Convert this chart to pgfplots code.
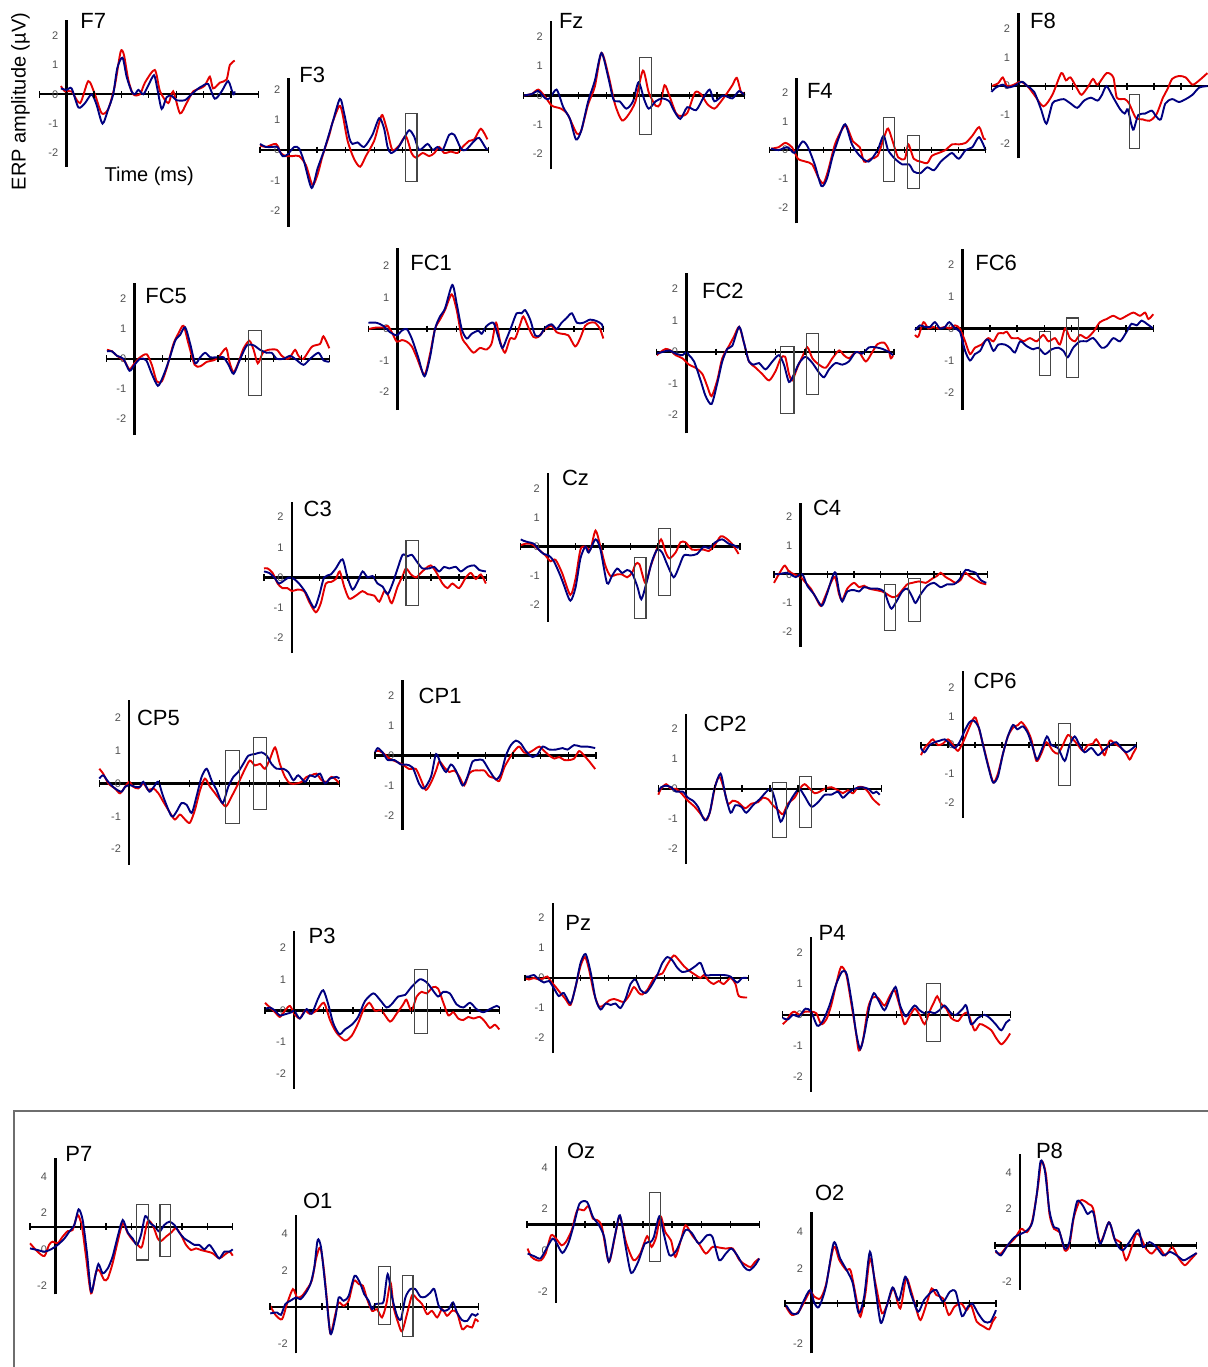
\documentclass[border=0pt]{standalone}
\usepackage{pgfplots}
\pgfplotsset{compat=1.18}
\usepackage{fontspec}
\setmainfont{Liberation Sans}
\definecolor{erpred}{RGB}{228,0,0}
\definecolor{erpblue}{RGB}{0,0,128}
\definecolor{tickgray}{RGB}{80,80,80}
\definecolor{boxgray}{RGB}{70,70,70}
\definecolor{framegray}{RGB}{110,110,110}
\pgfplotsset{
 erp/.style={hide axis, clip=false, anchor=south west, xmin=-100, xmax=700},
 rd/.style={erpred, line width=0.95pt, smooth, tension=0.45, no markers},
 bl/.style={erpblue, line width=0.95pt, smooth, tension=0.45, no markers},
 axl/.style={black, line width=1.2pt, no markers},
 tk/.style={only marks, mark=|, mark size=1.7pt, mark options={black, line width=0.65pt}},
}
\tikzset{
 tl/.style={anchor=east, inner sep=0pt, xshift=-4pt, text=tickgray, font=\fontsize{5.5}{6}\selectfont},
 bx/.style={boxgray, line width=0.55pt},
 ttl/.style={anchor=base west, inner sep=0pt, font=\fontsize{11}{13}\selectfont},
}
% xmin xmax ymin ymax vx hl
\newcommand{\axes}[6]{%
 \addplot[axl] coordinates {(#5,#3) (#5,#4)};
 \addplot[axl] coordinates {(#1,#6) (#2,#6)};
 \addplot[tk] coordinates {(-100,#6) (0,#6) (100,#6) (200,#6) (300,#6) (400,#6) (500,#6) (600,#6) (700,#6)};
}
\newcommand{\ylA}[1]{\node[tl] at (axis cs:#1,2) {2}; \node[tl] at (axis cs:#1,1) {1}; \node[tl] at (axis cs:#1,0) {0}; \node[tl] at (axis cs:#1,-1) {-1}; \node[tl] at (axis cs:#1,-2) {-2};}
\newcommand{\ylB}[1]{\node[tl] at (axis cs:#1,4) {4}; \node[tl] at (axis cs:#1,2) {2}; \node[tl] at (axis cs:#1,0) {0}; \node[tl] at (axis cs:#1,-2) {-2};}
\newcommand{\ylC}[1]{\node[tl] at (axis cs:#1,4) {4}; \node[tl] at (axis cs:#1,2) {2}; \node[tl] at (axis cs:#1,-2) {-2};}
\begin{document}
\begin{tikzpicture}
\useasboundingbox (0,0) rectangle (603.5pt,-683.5pt);
% ---------------- F7
\begin{axis}[erp, x=0.13688pt, y=14.65pt, ymin=-2.47, ymax=2.54, at={(19.65pt,-83.33pt)}]
\axes{-100}{700}{-2.47}{2.54}{0}{0}\ylA{0}
\addplot[rd] coordinates {(-21,0.28) (-6,0.1) (18,0.1) (49,-0.3) (79,0.45) (103,0.0) (128,-0.65) (152,-0.5) (176,0.3) (197,1.45) (209,1.35) (225,0.5) (243,0.0) (268,0.0) (286,0.4) (322,0.83) (341,0.1) (371,-0.3) (389,0.1) (414,-0.65) (438,-0.3) (462,0.1) (487,0.2) (505,0.3) (523,0.6) (535,0.2) (560,0.4) (584,0.5) (596,1.0) (614,1.15)};
\addplot[bl] coordinates {(-21,0.2) (0,0.15) (18,0.2) (43,-0.45) (67,-0.3) (91,0.0) (109,-0.35) (131,-1.0) (152,-0.5) (170,0.0) (185,0.9) (204,1.25) (219,0.6) (237,0.1) (249,0.0) (262,0.15) (280,0.0) (298,0.3) (319,0.65) (331,0.2) (347,-0.5) (365,-0.1) (383,-0.05) (401,-0.2) (432,-0.2) (456,0.0) (481,0.2) (499,0.3) (517,0.35) (541,-0.15) (566,0.1) (590,0.45) (608,0.0) (614,0.1)};
\end{axis}
% ---------------- F3
\begin{axis}[erp, x=0.14269pt, y=15.2pt, ymin=-2.52, ymax=2.36, at={(130pt,-113.3pt)}]
\axes{-100}{700}{-2.52}{2.36}{0}{0}\ylA{0}
\addplot[rd] coordinates {(-100,0.15) (-79,0.1) (-44,0.2) (-27,-0.1) (-9,-0.2) (14,-0.2) (37,-0.2) (61,-0.5) (84,-1.15) (102,-0.8) (119,-0.2) (143,0.5) (154,0.9) (178,1.45) (189,1.2) (207,0.3) (230,-0.3) (251,-0.55) (271,-0.2) (300,0.3) (318,0.9) (329,1.15) (347,0.6) (364,0.0) (388,0.15) (411,0.45) (431,-0.1) (446,-0.25) (470,-0.1) (493,-0.2) (511,-0.1) (528,0.1) (546,-0.1) (569,-0.05) (592,-0.1) (610,0.1) (633,0.3) (651,0.35) (674,0.7) (697,0.35)};
\addplot[bl] coordinates {(-100,0.2) (-79,0.1) (-56,0.1) (-39,0.1) (-21,-0.2) (-4,-0.15) (20,0.1) (37,0.05) (55,-0.4) (81,-1.25) (102,-0.6) (125,0.0) (154,0.9) (180,1.68) (195,1.2) (213,0.4) (224,0.2) (242,0.25) (265,0.1) (294,0.5) (318,1.05) (335,0.7) (347,0.1) (359,-0.1) (382,0.05) (405,0.4) (423,0.65) (440,0.45) (458,0.0) (487,0.2) (505,0.0) (522,0.1) (540,0.0) (563,0.5) (581,0.5) (604,0.05) (621,0.0) (651,0.3) (668,0.4) (692,0.05) (697,0.05)};
\draw[bx] (axis cs:409,-1.04) rectangle (axis cs:450,1.21);
\end{axis}
% ---------------- Fz
\begin{axis}[erp, x=0.13838pt, y=14.65pt, ymin=-2.52, ymax=2.55, at={(261.7pt,-84.65pt)}]
\axes{-100}{700}{-2.52}{2.55}{0}{0}\ylA{0}
\addplot[rd] coordinates {(-99,0.0) (-70,0.05) (-46,0.2) (-21,-0.05) (3,-0.35) (36,-0.45) (60,-0.65) (93,-1.3) (109,-1.2) (134,-0.3) (158,0.3) (182,1.45) (207,0.7) (231,-0.3) (256,-0.85) (280,-0.65) (305,-0.2) (332,0.85) (353,0.1) (378,-0.35) (394,-0.3) (410,0.35) (427,0.0) (451,-0.6) (467,-0.7) (492,-0.6) (520,0.1) (541,0.05) (565,-0.3) (590,-0.45) (606,-0.3) (630,0.0) (655,0.35) (671,0.6) (687,0.1) (700,0.1)};
\addplot[bl] coordinates {(-99,0.0) (-70,0.05) (-46,0.15) (-21,-0.1) (-5,-0.1) (20,0.2) (44,-0.4) (68,-0.8) (90,-1.5) (109,-1.2) (134,-0.2) (158,0.5) (182,1.45) (207,0.6) (226,-0.15) (248,-0.2) (272,-0.45) (296,-0.2) (316,0.45) (337,-0.15) (353,-0.45) (378,-0.2) (402,-0.1) (427,-0.2) (443,-0.5) (467,-0.8) (492,-0.4) (524,-0.5) (549,-0.1) (573,0.2) (590,-0.2) (622,0.0) (655,-0.1) (679,0.15) (700,0.0)};
\draw[bx] (axis cs:318,-1.32) rectangle (axis cs:362,1.3);
\end{axis}
% ---------------- F4
\begin{axis}[erp, x=0.135pt, y=14.375pt, ymin=-2.55, ymax=2.5, at={(384.8pt,-111.7pt)}]
\axes{-100}{700}{-2.55}{2.5}{0}{0}\ylA{0}
\addplot[rd] coordinates {(-95,0.05) (-67,0.1) (-42,0.25) (-17,0.1) (5,-0.3) (33,-0.4) (58,-0.5) (83,-1.0) (100,-1.15) (117,-0.7) (142,0.2) (167,0.7) (184,0.85) (209,0.3) (234,0.1) (250,-0.4) (275,-0.3) (300,-0.2) (326,0.5) (339,0.75) (356,0.3) (376,-0.25) (401,-0.3) (414,0.2) (434,-0.3) (459,-0.4) (484,-0.45) (501,-0.2) (526,-0.1) (551,0.0) (576,0.2) (601,0.2) (626,0.25) (651,0.5) (676,0.8) (693,0.4) (700,0.4)};
\addplot[bl] coordinates {(-95,0.05) (-67,0.0) (-33,0.1) (-8,-0.1) (22,0.3) (42,0.1) (67,-0.5) (92,-1.25) (112,-1.0) (134,-0.2) (159,0.5) (180,0.9) (205,0.2) (234,-0.2) (267,-0.4) (300,0.0) (322,0.5) (339,0.0) (364,-0.3) (392,-0.5) (417,-0.5) (434,-0.75) (459,-0.8) (484,-0.6) (509,-0.7) (534,-0.4) (559,-0.2) (576,-0.1) (601,-0.3) (626,0.0) (651,0.1) (676,0.45) (700,0.0)};
\draw[bx] (axis cs:321,-1.1) rectangle (axis cs:362,1.14);
\draw[bx] (axis cs:412,-1.34) rectangle (axis cs:454,0.5);
\end{axis}
% ---------------- F8
\begin{axis}[erp, x=0.1355pt, y=14.45pt, ymin=-2.5, ymax=2.54, at={(495.7pt,-79.18pt)}]
\axes{-100}{700}{-2.5}{2.54}{0}{0}\ylA{0}
\addplot[rd] coordinates {(-100,0.0) (-75,0.1) (-58,0.3) (-42,0.0) (-17,0.05) (8,0.15) (33,0.0) (58,-0.3) (92,-0.7) (125,-0.3) (158,0.45) (175,0.2) (192,0.3) (217,-0.1) (233,-0.3) (258,0.0) (275,0.25) (292,0.05) (325,0.45) (350,0.3) (363,-0.4) (392,-0.45) (408,-0.6) (433,-1.1) (458,-1.15) (483,-1.2) (508,-1.0) (533,-0.4) (550,-0.1) (567,0.25) (592,0.35) (617,0.3) (642,0.05) (667,0.2) (697,0.45)};
\addplot[bl] coordinates {(-100,-0.2) (-83,-0.05) (-58,0.05) (-42,-0.05) (-17,0.0) (13,0.15) (33,0.0) (58,-0.2) (83,-0.8) (103,-1.3) (125,-0.6) (142,-0.5) (167,-0.45) (192,-0.6) (217,-0.75) (242,-0.5) (267,-0.4) (292,-0.5) (308,-0.3) (325,0.0) (350,-0.4) (375,-0.8) (392,-0.95) (403,-0.8) (417,-1.35) (425,-1.5) (442,-1.0) (467,-0.95) (492,-0.85) (508,-1.05) (525,-1.15) (542,-0.6) (567,-0.45) (592,-0.55) (617,-0.45) (642,-0.3) (667,-0.05) (697,0.0)};
\draw[bx] (axis cs:408,-2.15) rectangle (axis cs:445,-0.29);
\end{axis}
% ---------------- FC5
\begin{axis}[erp, x=0.13913pt, y=15pt, ymin=-2.54, ymax=2.52, at={(53.35pt,-217.5pt)}]
\axes{-100}{700}{-2.54}{2.52}{0}{0}\ylA{0}
\addplot[rd] coordinates {(-99,0.3) (-81,0.25) (-63,0.1) (-46,0.0) (-34,-0.1) (-18,-0.35) (0,-0.15) (20,0.05) (44,0.15) (62,-0.2) (80,-0.75) (98,-0.75) (116,-0.3) (140,0.5) (158,0.85) (176,1.1) (194,0.5) (216,-0.2) (236,-0.25) (260,-0.1) (284,-0.05) (302,0.05) (329,0.35) (341,-0.1) (356,-0.45) (374,-0.1) (392,0.35) (413,0.6) (428,0.3) (443,-0.15) (461,0.2) (481,0.3) (511,0.3) (529,0.1) (547,0.0) (559,0.05) (577,0.3) (589,0.1) (607,0.0) (637,0.4) (667,0.5) (679,0.75) (700,0.35)};
\addplot[bl] coordinates {(-99,0.25) (-81,0.25) (-63,0.1) (-40,0.0) (-18,-0.4) (0,-0.2) (20,0.0) (42,-0.05) (62,-0.5) (84,-0.9) (102,-0.6) (122,-0.1) (146,0.6) (164,0.8) (182,1.05) (200,0.5) (218,-0.15) (236,0.05) (254,0.2) (272,0.05) (290,0.05) (308,0.05) (320,0.05) (338,-0.2) (356,-0.5) (380,0.0) (404,0.45) (428,0.45) (451,0.3) (475,0.2) (493,0.2) (511,0.0) (535,0.0) (559,0.1) (577,0.0) (607,-0.2) (631,0.0) (661,0.2) (679,-0.05) (700,-0.1)};
\draw[bx] (axis cs:410,-1.22) rectangle (axis cs:457,0.94);
\end{axis}
% ---------------- FC1
\begin{axis}[erp, x=0.14688pt, y=15.75pt, ymin=-2.57, ymax=2.56, at={(184.15pt,-205pt)}]
\axes{-100}{700}{-2.57}{2.56}{0}{0}\ylA{0}
\addplot[rd] coordinates {(-100,0.0) (-72,0.05) (-49,0.05) (-34,0.1) (-20,-0.1) (-3,-0.4) (14,-0.35) (31,-0.4) (48,-0.55) (65,-0.9) (91,-1.45) (110,-0.8) (127,0.0) (144,0.3) (161,0.6) (184,1.1) (201,0.6) (218,-0.25) (235,-0.5) (258,-0.75) (280,-0.6) (303,-0.65) (320,-0.45) (335,0.2) (349,-0.4) (365,-0.75) (383,-0.3) (400,-0.3) (417,0.15) (428,0.4) (445,0.05) (462,-0.25) (479,-0.25) (502,0.0) (524,0.1) (541,-0.1) (558,-0.15) (581,-0.2) (604,-0.55) (621,-0.3) (638,0.1) (655,0.2) (672,0.2) (689,0.0) (700,-0.3)};
\addplot[bl] coordinates {(-100,0.2) (-72,0.2) (-49,0.1) (-26,-0.1) (-3,-0.2) (14,-0.05) (31,0.0) (48,-0.3) (70,-0.9) (91,-1.5) (110,-0.9) (127,0.0) (144,0.4) (161,0.65) (186,1.4) (201,0.8) (218,0.0) (235,-0.3) (252,-0.15) (275,-0.05) (286,-0.15) (303,0.1) (326,0.2) (341,-0.2) (356,-0.6) (371,-0.3) (388,0.1) (405,0.5) (422,0.5) (434,0.6) (451,0.3) (468,-0.2) (485,-0.2) (502,0.05) (524,0.15) (541,0.0) (558,0.2) (575,0.35) (593,0.5) (610,0.2) (632,0.2) (655,0.3) (678,0.25) (695,0.15) (700,0.0)};
\end{axis}
% ---------------- FC2
\begin{axis}[erp, x=0.14831pt, y=15.75pt, ymin=-2.58, ymax=2.5, at={(328.35pt,-216.65pt)}]
\axes{-100}{700}{-2.58}{2.5}{0}{0}\ylA{0}
\addplot[rd] coordinates {(-100,-0.1) (-87,0.0) (-70,0.1) (-53,0.05) (-36,-0.1) (-13,-0.2) (9,-0.4) (31,-0.5) (54,-0.7) (71,-1.1) (85,-1.4) (104,-0.9) (121,-0.2) (144,0.2) (161,0.5) (178,0.8) (194,0.3) (211,-0.3) (234,-0.5) (256,-0.7) (279,-0.9) (301,-0.6) (318,-0.2) (333,-0.15) (346,-0.7) (357,-0.9) (374,-0.5) (391,-0.15) (408,0.15) (425,-0.2) (447,-0.4) (470,-0.5) (492,-0.2) (515,0.05) (531,-0.1) (548,-0.2) (565,-0.05) (582,0.0) (605,-0.3) (627,0.0) (644,0.25) (666,0.3) (681,0.1) (689,-0.2) (697,-0.1)};
\addplot[bl] coordinates {(-100,-0.05) (-81,0.0) (-58,0.05) (-36,-0.05) (-13,-0.1) (0,0.0) (9,-0.1) (26,-0.3) (48,-0.9) (65,-1.4) (85,-1.65) (104,-1.0) (121,-0.3) (138,0.1) (155,0.2) (178,0.8) (194,0.3) (211,-0.3) (228,-0.4) (245,-0.35) (267,-0.55) (290,-0.3) (312,-0.1) (329,-0.4) (346,-0.95) (363,-0.7) (380,-0.35) (402,-0.15) (425,-0.35) (447,-0.65) (464,-0.8) (481,-0.55) (503,-0.35) (526,-0.4) (548,-0.3) (571,0.0) (593,-0.05) (616,0.15) (638,0.15) (661,0.1) (683,0.0) (697,-0.1)};
\draw[bx] (axis cs:318,-1.94) rectangle (axis cs:363,0.19);
\draw[bx] (axis cs:404,-1.35) rectangle (axis cs:445,0.59);
\end{axis}
% ---------------- FC6
\begin{axis}[erp, xmin=-175, x=0.13617pt, y=15.95pt, ymin=-2.55, ymax=2.49, at={(457.5pt,-204.95pt)}]
\axes{-175}{700}{-2.55}{2.49}{0}{0}\ylA{0}
\addplot[rd] coordinates {(-175,-0.2) (-163,-0.25) (-144,0.2) (-126,0.0) (-108,0.05) (-89,0.0) (-65,0.05) (-47,0.0) (-28,0.1) (-10,0.0) (9,-0.4) (27,-0.8) (45,-0.6) (70,-0.5) (94,-0.3) (113,-0.4) (131,-0.15) (149,-0.15) (162,-0.1) (180,-0.3) (204,-0.3) (223,-0.4) (247,-0.3) (272,-0.4) (296,-0.2) (315,-0.4) (339,-0.3) (357,-0.5) (376,0.0) (394,-0.3) (412,-0.4) (431,-0.2) (455,-0.3) (480,-0.1) (504,0.2) (529,0.3) (553,0.4) (578,0.3) (602,0.4) (627,0.5) (651,0.4) (670,0.5) (682,0.3) (700,0.45)};
\addplot[bl] coordinates {(-175,-0.05) (-157,0.1) (-138,0.05) (-120,0.05) (-102,0.2) (-83,0.0) (-65,0.05) (-49,0.2) (-28,0.0) (-10,-0.1) (9,-0.7) (27,-1.0) (45,-0.8) (64,-0.7) (82,-0.4) (94,-0.35) (113,-0.7) (131,-0.5) (155,-0.5) (174,-0.6) (192,-0.75) (211,-0.4) (235,-0.55) (259,-0.65) (278,-0.6) (302,-0.8) (327,-0.65) (351,-0.6) (370,-0.7) (386,-0.9) (406,-0.6) (431,-0.4) (455,-0.4) (480,-0.3) (510,-0.6) (529,-0.55) (553,-0.3) (578,-0.4) (602,-0.1) (620,0.15) (639,0.1) (657,0.25) (676,0.15) (700,0.0)};
\draw[bx] (axis cs:282,-1.46) rectangle (axis cs:323,-0.1);
\draw[bx] (axis cs:382,-1.52) rectangle (axis cs:425,0.33);
\end{axis}
% ---------------- C3
\begin{axis}[erp, x=0.13919pt, y=15.125pt, ymin=-2.5, ymax=2.48, at={(132pt,-326.55pt)}]
\axes{-100}{700}{-2.5}{2.48}{0}{0}\ylA{0}
\addplot[rd] coordinates {(-100,0.3) (-87,0.3) (-69,0.15) (-51,-0.2) (-34,-0.35) (-16,-0.35) (0,-0.45) (20,-0.4) (44,-0.45) (62,-0.8) (86,-1.15) (104,-0.85) (122,-0.2) (140,-0.15) (158,-0.05) (172,0.2) (188,-0.3) (206,-0.7) (230,-0.6) (254,-0.45) (272,-0.55) (296,-0.6) (314,-0.8) (332,-0.45) (344,-0.55) (359,-0.85) (380,-0.3) (398,0.05) (410,0.3) (428,0.1) (446,0.0) (463,0.15) (481,0.3) (499,0.4) (517,0.2) (541,-0.2) (559,-0.35) (577,-0.2) (601,-0.35) (625,0.0) (643,0.15) (661,-0.05) (679,0.1) (697,-0.2)};
\addplot[bl] coordinates {(-100,0.2) (-81,0.15) (-63,0.0) (-46,-0.2) (-28,-0.1) (-10,0.0) (8,-0.05) (26,-0.2) (50,-0.5) (80,-1.0) (98,-0.6) (116,0.0) (140,0.1) (158,0.3) (182,0.6) (200,0.0) (218,-0.4) (236,-0.15) (254,0.2) (272,0.0) (290,0.05) (308,-0.2) (326,-0.3) (344,-0.55) (362,-0.2) (380,0.3) (398,0.75) (416,0.7) (431,0.75) (451,0.5) (469,0.3) (493,0.3) (511,0.35) (529,0.2) (547,0.35) (565,0.3) (589,0.35) (607,0.2) (631,0.35) (655,0.4) (673,0.25) (697,0.2)};
\draw[bx] (axis cs:410,-0.92) rectangle (axis cs:455,1.21);
\end{axis}
% ---------------- Cz
\begin{axis}[erp, x=0.13706pt, y=14.6pt, ymin=-2.57, ymax=2.51, at={(260.35pt,-310.85pt)}]
\axes{-100}{700}{-2.57}{2.51}{0}{0}\ylA{0}
\addplot[rd] coordinates {(-100,0.05) (-83,0.1) (-64,0.1) (-46,0.0) (-28,-0.15) (-10,-0.3) (9,-0.5) (27,-0.45) (51,-0.9) (81,-1.65) (100,-1.1) (118,-0.1) (136,0.0) (154,-0.1) (173,0.55) (191,0.0) (209,-0.65) (227,-1.0) (252,-0.95) (270,-0.95) (288,-1.05) (306,-0.9) (319,-0.6) (333,-0.6) (355,-1.25) (373,-0.7) (392,-0.2) (412,0.25) (429,-0.2) (443,-0.4) (465,-0.2) (483,0.15) (501,0.15) (525,-0.1) (550,-0.1) (568,-0.1) (586,-0.15) (604,0.0) (629,0.35) (647,0.3) (671,0.1) (695,-0.25)};
\addplot[bl] coordinates {(-100,0.25) (-89,0.2) (-71,0.15) (-52,0.1) (-34,-0.1) (-16,-0.25) (2,-0.3) (21,-0.5) (45,-1.0) (57,-1.3) (81,-1.85) (100,-1.4) (118,-0.4) (136,0.0) (148,-0.2) (173,0.25) (191,-0.1) (215,-1.25) (233,-1.0) (252,-0.75) (270,-0.9) (288,-0.8) (306,-0.9) (325,-1.35) (340,-1.8) (357,-1.3) (379,-0.5) (398,-0.1) (416,-0.2) (434,-0.6) (458,-1.05) (477,-0.7) (495,-0.3) (519,-0.3) (543,-0.25) (568,0.0) (586,-0.05) (610,0.15) (635,0.25) (659,0.1) (677,0.05) (695,-0.05)};
\draw[bx] (axis cs:315,-2.46) rectangle (axis cs:357,-0.37);
\draw[bx] (axis cs:404,-1.66) rectangle (axis cs:446,0.63);
\end{axis}
% ---------------- C4
\begin{axis}[erp, x=0.13331pt, y=14.375pt, ymin=-2.52, ymax=2.49, at={(387pt,-323.33pt)}]
\axes{-100}{700}{-2.52}{2.49}{0}{0}\ylA{0}
\addplot[rd] coordinates {(-100,-0.3) (-88,-0.1) (-69,0.2) (-59,0.3) (-44,0.1) (-25,0.0) (0,-0.1) (19,-0.3) (38,-0.5) (56,-0.8) (75,-1.1) (91,-0.8) (113,-0.3) (129,-0.1) (144,-0.7) (156,-0.9) (175,-0.5) (200,-0.3) (219,-0.45) (238,-0.4) (256,-0.5) (281,-0.55) (306,-0.6) (325,-0.7) (344,-0.8) (363,-0.75) (381,-0.55) (400,-0.35) (419,-0.3) (444,-0.25) (469,-0.3) (494,-0.15) (513,-0.05) (525,0.05) (544,-0.1) (563,-0.2) (581,-0.3) (600,-0.2) (616,0.05) (638,-0.1) (656,-0.2) (675,-0.3) (696,-0.35)};
\addplot[bl] coordinates {(-100,0.0) (-81,0.0) (-56,0.05) (-38,0.0) (-19,-0.1) (6,0.0) (25,-0.4) (50,-0.7) (79,-1.1) (98,-0.7) (119,-0.1) (131,0.05) (144,-0.6) (156,-0.95) (175,-0.6) (200,-0.55) (219,-0.6) (238,-0.45) (263,-0.5) (288,-0.5) (313,-0.6) (329,-1.0) (341,-1.2) (359,-0.95) (381,-0.6) (400,-0.5) (419,-0.8) (431,-1.0) (450,-0.7) (475,-0.4) (500,-0.3) (525,-0.45) (550,-0.35) (575,-0.35) (594,-0.2) (619,0.15) (638,0.1) (656,0.05) (675,-0.2) (696,-0.3)};
\draw[bx] (axis cs:314,-1.96) rectangle (axis cs:356,-0.35);
\draw[bx] (axis cs:404,-1.65) rectangle (axis cs:450,-0.15);
\end{axis}
% ---------------- CP5
\begin{axis}[erp, x=0.15pt, y=16.375pt, ymin=-2.48, ymax=2.56, at={(49.65pt,-432.35pt)}]
\axes{-100}{700}{-2.48}{2.56}{0}{0}\ylA{0}
\addplot[rd] coordinates {(-100,0.45) (-87,0.3) (-70,0.0) (-48,-0.15) (-31,-0.3) (-14,-0.1) (0,0.05) (13,-0.1) (30,-0.15) (47,0.0) (63,-0.2) (80,-0.15) (97,-0.3) (113,-0.55) (136,-0.9) (152,-1.1) (169,-0.95) (186,-1.1) (202,-1.2) (219,-0.8) (236,-0.2) (252,0.15) (269,-0.1) (286,-0.3) (302,-0.5) (322,-0.7) (341,-0.4) (363,0.0) (386,0.45) (402,0.7) (419,0.55) (436,0.6) (452,0.45) (469,0.75) (486,1.1) (502,0.6) (519,0.2) (536,0.0) (558,0.0) (574,0.05) (591,0.2) (608,0.25) (624,0.3) (641,0.1) (658,0.05) (674,0.2) (691,0.1) (700,0.0)};
\addplot[bl] coordinates {(-100,0.15) (-87,0.25) (-70,0.05) (-48,-0.15) (-26,-0.25) (-14,-0.1) (2,-0.05) (19,-0.1) (36,-0.1) (47,0.05) (67,-0.25) (82,-0.1) (97,0.05) (113,-0.4) (141,-1.0) (158,-0.85) (174,-0.6) (191,-0.65) (208,-0.9) (224,-0.4) (241,0.2) (258,0.45) (274,0.1) (291,-0.2) (311,-0.6) (330,-0.1) (347,0.2) (363,0.35) (380,0.6) (397,0.85) (419,0.9) (441,0.95) (458,0.85) (474,0.6) (491,0.45) (513,0.45) (530,0.35) (547,0.1) (563,0.25) (586,0.05) (602,0.25) (619,0.2) (636,0.3) (652,0.0) (669,0.15) (691,0.2) (700,0.15)};
\draw[bx] (axis cs:321,-1.22) rectangle (axis cs:366,1.0);
\draw[bx] (axis cs:413,-0.8) rectangle (axis cs:456,1.41);
\end{axis}
% ---------------- CP1
\begin{axis}[erp, x=0.13813pt, y=14.95pt, ymin=-2.48, ymax=2.53, at={(187.5pt,-414.85pt)}]
\axes{-100}{700}{-2.48}{2.53}{0}{0}\ylA{0}
\addplot[rd] coordinates {(-100,0.15) (-84,0.15) (-66,0.05) (-48,-0.1) (-24,-0.2) (0,-0.3) (24,-0.45) (48,-0.45) (66,-0.8) (84,-1.15) (103,-0.9) (121,-0.5) (133,-0.2) (151,-0.4) (169,-0.55) (187,-0.5) (205,-0.7) (223,-1.0) (241,-0.6) (259,-0.5) (277,-0.5) (296,-0.5) (314,-0.7) (332,-0.75) (350,-0.85) (368,-0.4) (386,-0.1) (404,0.15) (422,0.3) (440,0.1) (458,0.1) (476,0.2) (495,0.3) (513,0.15) (531,0.0) (549,-0.1) (567,-0.05) (585,-0.15) (603,-0.15) (621,-0.1) (639,0.15) (657,0.0) (676,-0.2) (697,-0.45)};
\addplot[bl] coordinates {(-100,0.1) (-90,0.25) (-72,0.1) (-54,-0.15) (-30,-0.15) (-6,-0.3) (12,-0.3) (36,-0.4) (60,-0.95) (78,-1.1) (103,-0.7) (121,0.05) (139,-0.3) (157,-0.55) (175,-0.3) (193,-0.5) (217,-1.0) (235,-0.7) (253,-0.2) (271,-0.15) (290,-0.15) (314,-0.5) (338,-0.8) (356,-0.6) (374,0.0) (392,0.35) (410,0.5) (428,0.4) (446,0.15) (470,-0.05) (489,0.05) (507,0.3) (531,0.2) (555,0.2) (579,0.25) (597,0.2) (621,0.35) (645,0.3) (669,0.3) (697,0.25)};
\end{axis}
% ---------------- CP2
\begin{axis}[erp, x=0.13963pt, y=15pt, ymin=-2.51, ymax=2.49, at={(329.15pt,-432pt)}]
\axes{-100}{700}{-2.51}{2.49}{0}{0}\ylA{0}
\addplot[rd] coordinates {(-100,-0.2) (-90,0.0) (-72,0.15) (-54,0.0) (-36,0.0) (-18,-0.15) (6,-0.4) (30,-0.6) (48,-0.8) (72,-1.05) (87,-0.7) (104,0.1) (119,0.4) (135,0.0) (149,-0.5) (167,-0.4) (185,-0.45) (211,-0.65) (233,-0.5) (257,-0.45) (275,-0.3) (293,-0.35) (310,-0.55) (328,-0.7) (346,-0.85) (364,-0.5) (388,-0.3) (406,0.0) (424,0.15) (442,0.0) (460,-0.15) (478,-0.1) (496,0.0) (519,0.05) (543,-0.05) (561,-0.15) (579,-0.05) (597,-0.15) (615,0.05) (633,0.05) (651,-0.1) (669,-0.35) (693,-0.55)};
\addplot[bl] coordinates {(-100,-0.1) (-90,0.05) (-72,0.1) (-54,0.05) (-36,-0.1) (-12,-0.1) (6,-0.3) (24,-0.4) (42,-0.6) (66,-1.05) (84,-0.8) (101,0.0) (123,0.5) (140,-0.2) (159,-0.8) (176,-0.55) (197,-0.6) (215,-0.8) (239,-0.55) (263,-0.35) (287,-0.1) (304,0.0) (319,-0.4) (338,-1.1) (358,-0.7) (376,-0.35) (394,-0.1) (406,0.0) (424,-0.25) (448,-0.6) (472,-0.45) (496,-0.2) (519,-0.2) (543,-0.1) (561,-0.3) (579,-0.15) (603,0.0) (627,0.05) (651,0.0) (669,-0.15) (681,-0.1) (693,-0.2)};
\draw[bx] (axis cs:310,-1.64) rectangle (axis cs:358,0.2);
\draw[bx] (axis cs:405,-1.28) rectangle (axis cs:450,0.41);
\end{axis}
% ---------------- CP6
\begin{axis}[erp, x=0.13481pt, y=14.375pt, ymin=-2.54, ymax=2.56, at={(460.5pt,-409.05pt)}]
\axes{-100}{700}{-2.54}{2.56}{55}{0}\ylA{55}
\addplot[rd] coordinates {(-100,-0.35) (-87,-0.1) (-68,0.1) (-56,0.2) (-37,0.0) (-19,0.05) (0,0.2) (19,0.0) (37,-0.2) (56,0.1) (74,0.5) (93,0.9) (103,0.95) (117,0.5) (136,-0.2) (155,-0.9) (169,-1.3) (185,-1.0) (204,-0.3) (222,0.3) (241,0.6) (260,0.7) (272,0.8) (290,0.6) (309,0.2) (328,-0.55) (346,-0.3) (365,0.1) (389,-0.2) (408,-0.3) (426,0.0) (445,0.35) (464,0.2) (482,0.0) (501,-0.2) (519,0.0) (538,0.05) (550,0.2) (569,-0.1) (581,-0.35) (600,0.15) (618,0.05) (643,-0.1) (661,-0.3) (674,-0.5) (686,-0.3) (698,-0.1)};
\addplot[bl] coordinates {(-100,-0.1) (-87,-0.25) (-68,0.0) (-49,0.1) (-31,0.15) (-12,0.2) (6,0.05) (25,-0.1) (43,0.1) (62,0.5) (80,0.8) (96,0.85) (115,0.6) (130,0.0) (148,-0.7) (167,-1.3) (185,-1.1) (204,-0.3) (222,0.3) (241,0.7) (257,0.55) (278,0.65) (297,0.4) (315,-0.1) (330,-0.5) (346,-0.2) (367,0.3) (383,0.0) (408,-0.1) (433,-0.55) (451,0.0) (470,0.3) (488,0.0) (507,-0.25) (532,-0.1) (556,-0.35) (575,-0.2) (600,0.0) (624,0.1) (643,-0.1) (661,-0.25) (680,-0.15) (698,0.0)};
\draw[bx] (axis cs:410,-1.42) rectangle (axis cs:454,0.76);
\end{axis}
% ---------------- P3
\begin{axis}[erp, x=0.14644pt, y=15.7pt, ymin=-2.48, ymax=2.53, at={(132.5pt,-544.25pt)}]
\axes{-100}{700}{-2.48}{2.53}{0}{0}\ylA{0}
\addplot[rd] coordinates {(-100,0.25) (-83,0.1) (-66,-0.05) (-49,-0.2) (-32,0.0) (-15,0.15) (0,-0.1) (19,-0.25) (36,0.0) (53,-0.1) (76,0.0) (101,0.25) (122,-0.3) (144,-0.7) (173,-0.95) (196,-0.8) (218,-0.4) (235,0.0) (256,0.25) (275,0.0) (298,0.0) (327,-0.35) (349,-0.1) (372,0.2) (383,0.35) (400,0.0) (418,0.45) (435,0.6) (452,0.55) (474,0.75) (491,0.7) (509,0.25) (526,-0.15) (543,-0.05) (560,-0.25) (577,-0.3) (594,-0.2) (611,-0.25) (634,-0.2) (651,-0.35) (668,-0.55) (685,-0.45) (700,-0.6)};
\addplot[bl] coordinates {(-100,0.05) (-83,0.1) (-66,0.0) (-49,-0.15) (-26,-0.1) (-9,-0.05) (0,0.0) (19,-0.25) (42,0.05) (59,-0.1) (82,0.4) (99,0.65) (116,0.2) (133,-0.4) (154,-0.75) (173,-0.6) (196,-0.45) (218,-0.2) (241,0.3) (270,0.55) (292,0.35) (315,0.1) (332,0.2) (355,0.45) (378,0.5) (400,0.75) (429,1.0) (452,0.9) (469,0.7) (491,0.45) (509,0.6) (531,0.55) (554,0.2) (577,0.1) (600,0.25) (622,0.05) (645,-0.05) (668,0.05) (691,0.15) (700,0.1)};
\draw[bx] (axis cs:410,-0.72) rectangle (axis cs:454,1.3);
\end{axis}
% ---------------- Pz
\begin{axis}[erp, x=0.13956pt, y=15pt, ymin=-2.5, ymax=2.5, at={(262.5pt,-526.5pt)}]
\axes{-100}{700}{-2.5}{2.5}{0}{0}\ylA{0}
\addplot[rd] coordinates {(-100,0.0) (-86,-0.05) (-68,0.0) (-50,-0.05) (-32,0.0) (-20,0.05) (-8,-0.1) (10,-0.3) (27,-0.5) (45,-0.7) (63,-0.9) (81,-0.3) (99,0.4) (115,0.7) (129,0.3) (147,-0.5) (165,-0.95) (183,-0.9) (201,-0.75) (219,-0.7) (236,-0.75) (254,-0.8) (272,-0.6) (290,-0.3) (308,-0.5) (320,-0.55) (338,-0.4) (356,-0.1) (374,0.1) (392,0.15) (410,0.45) (433,0.75) (451,0.6) (469,0.4) (487,0.25) (511,0.1) (529,0.0) (541,0.1) (559,-0.1) (576,-0.2) (594,-0.1) (612,-0.2) (636,0.0) (654,-0.2) (666,-0.6) (696,-0.65)};
\addplot[bl] coordinates {(-100,0.05) (-86,0.05) (-68,0.1) (-50,-0.05) (-32,-0.15) (-14,-0.1) (4,-0.35) (21,-0.6) (39,-0.5) (63,-0.85) (81,-0.3) (99,0.5) (117,0.8) (135,0.2) (153,-0.7) (171,-1.05) (189,-0.85) (207,-0.9) (224,-0.85) (242,-1.0) (260,-0.7) (278,-0.2) (296,-0.05) (314,-0.4) (332,-0.5) (350,-0.3) (374,0.1) (392,0.5) (410,0.7) (427,0.6) (445,0.35) (463,0.2) (487,0.25) (511,0.4) (529,0.5) (547,0.1) (565,0.1) (589,0.1) (613,0.1) (636,0.05) (660,-0.15) (678,0.0) (696,0.0)};
\end{axis}
% ---------------- P4
\begin{axis}[erp, x=0.1425pt, y=15.5pt, ymin=-2.48, ymax=2.52, at={(391.35pt,-545.85pt)}]
\axes{-100}{700}{-2.48}{2.52}{0}{0}\ylA{0}
\addplot[rd] coordinates {(-100,-0.3) (-88,-0.2) (-70,0.05) (-58,0.1) (-41,0.0) (-23,0.1) (0,0.1) (18,0.05) (35,-0.3) (53,-0.15) (70,0.3) (88,1.0) (105,1.55) (123,1.3) (140,0.4) (156,-0.5) (167,-1.15) (181,-0.85) (199,0.2) (214,0.55) (234,0.55) (257,0.3) (275,0.6) (292,0.8) (310,0.3) (327,-0.3) (345,-0.05) (363,0.2) (380,0.0) (398,-0.3) (415,0.1) (433,0.45) (442,0.6) (456,0.35) (474,0.2) (491,-0.1) (515,-0.2) (532,0.0) (550,0.05) (573,-0.5) (591,-0.3) (608,-0.35) (632,-0.5) (649,-0.75) (667,-0.95) (684,-0.8) (698,-0.6)};
\addplot[bl] coordinates {(-100,-0.1) (-82,-0.15) (-64,0.0) (-43,-0.05) (-20,0.2) (0,0.1) (21,-0.35) (41,-0.2) (64,0.3) (88,1.0) (109,1.4) (125,1.3) (144,0.3) (158,-0.6) (172,-1.1) (187,-0.6) (205,0.3) (220,0.7) (237,0.45) (257,0.15) (275,0.5) (296,0.9) (312,0.3) (331,-0.05) (345,0.1) (363,0.3) (380,0.15) (398,0.05) (415,0.1) (433,0.05) (450,0.15) (468,0.3) (491,0.05) (509,0.0) (532,0.2) (544,0.3) (561,-0.3) (585,-0.1) (608,0.0) (626,-0.1) (647,-0.3) (667,-0.5) (684,-0.25) (698,-0.15)};
\draw[bx] (axis cs:406,-0.86) rectangle (axis cs:454,1.0);
\end{axis}
% ---------------- P7
\begin{axis}[erp, x=0.12669pt, y=9.085pt, ymin=-2.48, ymax=5.0, at={(15pt,-647.18pt)}]
\axes{-100}{700}{-2.48}{5.0}{0}{1.24}\ylB{0}
\addplot[rd] coordinates {(-100,0.33) (-70,-0.13) (-43,-0.37) (-25,0.24) (-11,0.42) (9,0.33) (29,0.7) (49,1.0) (68,1.06) (88,1.89) (105,1.25) (121,-0.4) (141,-2.42) (161,-1.23) (174,-1.17) (193,-1.69) (207,-1.6) (226,-0.77) (246,0.42) (266,1.43) (286,0.88) (305,0.51) (325,0.24) (342,0.15) (364,1.52) (384,1.34) (404,0.6) (417,0.46) (437,0.7) (457,0.92) (476,1.16) (496,0.79) (516,0.24) (536,-0.04) (555,0.05) (575,-0.04) (601,-0.13) (621,-0.22) (647,-0.5) (667,-0.31) (687,-0.13) (700,-0.35)};
\addplot[bl] coordinates {(-100,0.05) (-70,-0.04) (-43,-0.13) (-17,0.0) (9,0.24) (36,0.6) (55,0.97) (75,1.34) (92,2.2) (108,1.6) (125,-0.22) (141,-2.33) (157,-1.5) (170,-0.81) (187,-1.32) (207,-1.05) (226,-0.4) (246,0.7) (266,1.61) (286,0.92) (305,0.6) (322,0.24) (338,0.79) (355,1.83) (375,1.43) (393,1.25) (411,0.97) (430,1.34) (450,1.52) (470,1.34) (489,0.92) (509,0.6) (529,0.42) (549,0.24) (568,0.24) (588,0.0) (608,0.24) (628,-0.13) (647,-0.5) (667,-0.13) (687,-0.13) (700,0.0)};
\draw[bx] (axis cs:322,-0.59) rectangle (axis cs:368,2.48);
\draw[bx] (axis cs:413,-0.4) rectangle (axis cs:454,2.48);
\end{axis}
% ---------------- O1
\begin{axis}[erp, x=0.13019pt, y=9.135pt, ymin=-2.55, ymax=5.02, at={(135pt,-676.7pt)}]
\axes{-100}{700}{-2.55}{5.02}{0}{0}\ylC{0}
\addplot[rd] coordinates {(-99,0.05) (-79,-0.44) (-54,-0.68) (-35,0.15) (-12,0.97) (4,0.51) (23,0.6) (42,0.97) (61,1.46) (78,2.7) (93,3.25) (106,2.15) (119,0.33) (132,-1.46) (151,-0.4) (164,0.24) (183,0.05) (202,0.33) (222,1.42) (241,1.24) (257,1.15) (273,0.42) (292,-0.22) (311,-0.13) (330,-0.58) (347,0.15) (363,1.33) (375,-0.04) (392,-0.86) (407,-1.35) (426,-0.4) (446,0.64) (465,0.42) (484,0.15) (503,-0.4) (522,-0.22) (542,-0.58) (561,-0.13) (580,-0.49) (599,-0.22) (618,-0.31) (638,-1.22) (657,-1.04) (676,-1.13) (689,-0.68) (700,-0.82)};
\addplot[bl] coordinates {(-99,-0.36) (-73,-0.31) (-58,-0.44) (-41,0.15) (-22,0.33) (0,0.51) (17,0.42) (36,0.73) (55,1.24) (70,2.15) (83,3.65) (96,3.25) (113,1.06) (132,-1.46) (151,-0.58) (164,0.51) (183,0.33) (202,0.6) (225,1.7) (245,1.33) (262,0.69) (279,0.33) (292,-0.13) (305,0.15) (324,0.18) (337,0.33) (352,1.79) (369,0.51) (388,-0.49) (403,-0.68) (420,0.51) (439,0.97) (458,0.97) (478,0.55) (497,0.55) (516,0.78) (531,0.97) (548,0.05) (567,-0.22) (586,-0.13) (603,0.24) (618,-0.31) (638,-0.73) (657,-0.77) (676,-0.4) (689,-0.49) (700,-0.36)};
\draw[bx] (axis cs:318,-0.95) rectangle (axis cs:363,2.21);
\draw[bx] (axis cs:410,-1.64) rectangle (axis cs:449,1.73);
\end{axis}
% ---------------- Oz
\begin{axis}[erp, x=0.14513pt, y=10.35pt, ymin=-2.54, ymax=5.03, at={(263.5pt,-651.4pt)}]
\axes{-100}{700}{-2.54}{5.03}{0}{1.25}\ylB{0}
\addplot[rd] coordinates {(-98,0.08) (-85,-0.32) (-67,-0.48) (-51,-0.48) (-36,-0.16) (-17,0.72) (0,0.56) (19,0.24) (34,0.4) (54,0.97) (73,1.93) (96,1.93) (112,2.13) (127,1.53) (143,1.45) (158,1.13) (182,-0.56) (205,0.81) (220,1.64) (241,0.4) (267,-0.48) (290,-0.16) (314,0.68) (329,0.16) (345,0.64) (360,1.64) (376,0.89) (396,0.48) (411,-0.32) (430,0.48) (446,1.21) (469,0.72) (492,0.32) (516,-0.16) (539,0.16) (562,0.13) (585,0.08) (609,0.08) (632,-0.48) (655,-0.72) (671,-0.81) (686,-0.56) (700,-0.4)};
\addplot[bl] coordinates {(-98,-0.16) (-75,-0.29) (-54,-0.4) (-36,0.0) (-12,0.56) (3,0.32) (22,-0.13) (42,0.32) (61,1.21) (81,2.25) (107,2.33) (127,1.61) (148,1.21) (166,0.64) (182,-0.56) (202,0.64) (220,1.69) (241,0.08) (259,-1.1) (283,-0.56) (306,0.32) (326,0.4) (337,0.64) (356,1.64) (371,0.81) (391,-0.24) (415,0.0) (446,0.97) (469,0.81) (492,0.32) (520,0.72) (539,0.64) (562,-0.48) (585,-0.16) (604,0.08) (624,-0.24) (648,-0.81) (666,-0.97) (686,-0.72) (700,-0.4)};
\draw[bx] (axis cs:321,-0.56) rectangle (axis cs:360,2.79);
\end{axis}
% ---------------- O2
\begin{axis}[erp, x=0.13188pt, y=9.3pt, ymin=-2.54, ymax=5.07, at={(392.5pt,-676.65pt)}]
\axes{-100}{700}{-2.54}{5.07}{0}{0.15}\ylC{0}
\addplot[rd] coordinates {(-96,-0.04) (-74,-0.48) (-48,-0.3) (-27,0.23) (-5,0.77) (12,0.5) (34,0.41) (55,1.13) (85,3.19) (106,2.47) (132,1.94) (149,1.9) (174,0.14) (186,-0.57) (205,0.68) (222,2.56) (243,1.22) (268,-0.39) (291,0.23) (311,0.95) (337,-0.13) (359,1.49) (379,0.77) (397,-0.13) (414,-0.75) (439,0.23) (456,0.95) (474,0.59) (499,0.41) (521,-0.48) (542,-0.04) (568,0.14) (588,-0.22) (605,0.05) (627,-0.84) (653,-1.1) (674,-1.25) (687,-0.84) (700,-0.57)};
\addplot[bl] coordinates {(-96,0.05) (-74,-0.39) (-51,-0.39) (-31,0.23) (-5,0.86) (12,0.14) (29,-0.04) (55,1.04) (85,3.41) (109,2.56) (137,1.85) (157,1.22) (179,-0.36) (200,0.5) (222,2.92) (243,0.95) (263,-0.9) (285,-0.04) (308,1.0) (332,0.32) (356,1.58) (379,0.59) (405,-0.3) (427,0.32) (456,0.77) (474,0.86) (499,0.23) (525,0.77) (547,0.77) (571,-0.54) (593,-0.04) (610,0.14) (632,-0.39) (656,-0.84) (679,-0.84) (700,-0.22)};
\end{axis}
% ---------------- P8
\begin{axis}[erp, x=0.126pt, y=9.085pt, ymin=-2.45, ymax=5.03, at={(497.5pt,-644.95pt)}]
\axes{-100}{700}{-2.45}{5.03}{0}{0}\ylC{0}
\addplot[rd] coordinates {(-98,-0.36) (-77,-0.45) (-50,0.0) (-23,0.36) (4,0.91) (27,0.73) (48,1.36) (70,3.18) (84,4.64) (102,3.93) (116,1.73) (134,0.91) (156,0.73) (177,-0.27) (195,0.0) (213,1.55) (236,2.45) (254,2.45) (272,2.27) (290,2.0) (317,0.18) (352,1.27) (374,0.36) (397,0.18) (420,-0.82) (442,-0.09) (460,0.64) (478,0.45) (499,-0.18) (522,-0.45) (549,-0.09) (576,-0.55) (603,-0.09) (630,-0.73) (653,-1.09) (674,-0.82) (700,-0.42)};
\addplot[bl] coordinates {(-98,-0.27) (-77,-0.55) (-50,0.0) (-23,0.45) (4,0.64) (27,0.82) (48,1.27) (66,2.84) (81,4.64) (98,4.1) (116,1.91) (134,1.0) (152,0.91) (177,-0.18) (195,0.18) (209,1.36) (227,2.45) (249,2.18) (267,1.73) (290,1.82) (317,0.09) (352,1.27) (379,0.18) (406,-0.27) (433,0.18) (469,0.85) (487,-0.09) (513,0.18) (540,-0.09) (567,-0.55) (594,-0.36) (621,-0.55) (648,-0.82) (674,-0.64) (700,-0.42)};
\end{axis}
% ---------------- titles and global labels
\node[ttl] at (40pt,-14pt) {F7};
\node[ttl] at (149.5pt,-41pt) {F3};
\node[ttl] at (279.3pt,-14pt) {Fz};
\node[ttl] at (403.3pt,-49.15pt) {F4};
\node[ttl] at (514.9pt,-14pt) {F8};
\node[ttl] at (72.5pt,-151.65pt) {FC5};
\node[ttl] at (205pt,-135pt) {FC1};
\node[ttl] at (350.85pt,-149.15pt) {FC2};
\node[ttl] at (487.5pt,-135.35pt) {FC6};
\node[ttl] at (151.65pt,-258.35pt) {C3};
\node[ttl] at (280.85pt,-242.5pt) {Cz};
\node[ttl] at (406.35pt,-257.5pt) {C4};
\node[ttl] at (68.35pt,-362.5pt) {CP5};
\node[ttl] at (209.15pt,-351.65pt) {CP1};
\node[ttl] at (351.65pt,-365.85pt) {CP2};
\node[ttl] at (486.65pt,-344.15pt) {CP6};
\node[ttl] at (154.15pt,-471.65pt) {P3};
\node[ttl] at (282.5pt,-465pt) {Pz};
\node[ttl] at (409.15pt,-470pt) {P4};
\node[ttl] at (32.5pt,-580.85pt) {P7};
\node[ttl] at (151.35pt,-604.15pt) {O1};
\node[ttl] at (283.35pt,-579.15pt) {Oz};
\node[ttl] at (407.35pt,-600pt) {O2};
\node[ttl] at (517.8pt,-579.15pt) {P8};
\node[rotate=90, inner sep=0pt, font=\fontsize{10}{12}\selectfont] at (10.25pt,-50.75pt) {ERP amplitude (µV)};
\node[anchor=base, inner sep=0pt, font=\fontsize{10}{12}\selectfont] at (74.6pt,-90.5pt) {Time (ms)};
\draw[framegray, line width=0.9pt] (7pt,-684pt) -- (7pt,-555.5pt) -- (604pt,-555.5pt);
\end{tikzpicture}
\end{document}
